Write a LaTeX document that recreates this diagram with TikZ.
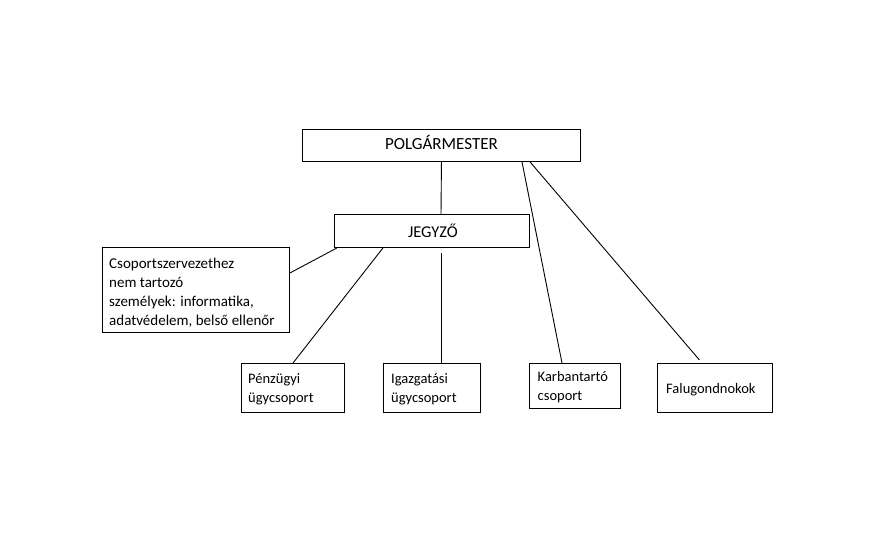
\documentclass[tikz,border=0pt]{standalone}
\usepackage{fontspec}
\setmainfont{Carlito}
\begin{document}
\begin{tikzpicture}[x=1pt,y=-1pt,
  box/.style={draw,line width=0.9pt,inner sep=0pt,anchor=north west},
  txt/.style={inner sep=0pt,font=\fontsize{14.5}{19}\selectfont,align=left},
  conn/.style={line width=0.9pt}]
\useasboundingbox[fill=white] (0,0) rectangle (882,545);
% boxes
\node[box,minimum width=278pt,minimum height=32pt] (P) at (302,129) {};
\node[box,minimum width=195pt,minimum height=33pt] (J) at (334,214) {};
\node[box,minimum width=187pt,minimum height=85pt] (C) at (102,247) {};
\node[box,minimum width=103pt,minimum height=49pt] (Pe) at (241,363) {};
\node[box,minimum width=97pt,minimum height=49pt] (Ig) at (383,363) {};
\node[box,minimum width=91pt,minimum height=45pt] (Ka) at (529,363) {};
\node[box,minimum width=115pt,minimum height=49pt] (Fa) at (657,363) {};
% texts
\node[txt,font=\fontsize{17}{19}\selectfont,anchor=base] (Pt) at ([yshift=-4.5pt]P.center) {POLGÁRMESTER};
\node[txt,font=\fontsize{16.5}{19}\selectfont,anchor=base] (Jt) at ([xshift=1pt,yshift=-6.8pt]J.center) {JEGYZŐ};
\node[txt,font=\fontsize{15}{19}\selectfont,anchor=base west] (Ct) at ([xshift=7pt,yshift=-78pt]C.north west)
  {Csoportszervezethez\\nem tartozó\\személyek: informatika,\\adatvédelem, belső ellenőr};
\node[txt,anchor=base west] (Pet) at ([xshift=7pt,yshift=-39pt]Pe.north west) {Pénzügyi\\ügycsoport};
\node[txt,anchor=base west] (Igt) at ([xshift=8pt,yshift=-39pt]Ig.north west) {Igazgatási\\ügycsoport};
\node[txt,anchor=base west] (Kat) at ([xshift=8.5pt,yshift=-37.5pt]Ka.north west) {Karbantartó\\csoport};
\node[txt,anchor=base west] (Fat) at ([xshift=9pt,yshift=-5.8pt]Fa.west) {Falugondnokok};
% connectors
\draw[conn] (P.south) -- ([xshift=107pt]J.north west);
\draw[conn] ([yshift=-26pt]C.north east) -- ([xshift=3pt]J.south west);
\draw[conn] ([xshift=49pt]J.south west) -- ([xshift=52pt]Pe.north west);
\draw[conn,shorten <=5pt] ([xshift=107pt]J.south west) -- ([xshift=58pt]Ig.north west);
\draw[conn] ([xshift=220pt]P.south west) -- ([xshift=33pt]Ka.north west);
\draw[conn,shorten >=4pt] ([xshift=228pt]P.south west) -- ([xshift=45pt]Fa.north west);
\end{tikzpicture}
\end{document}
